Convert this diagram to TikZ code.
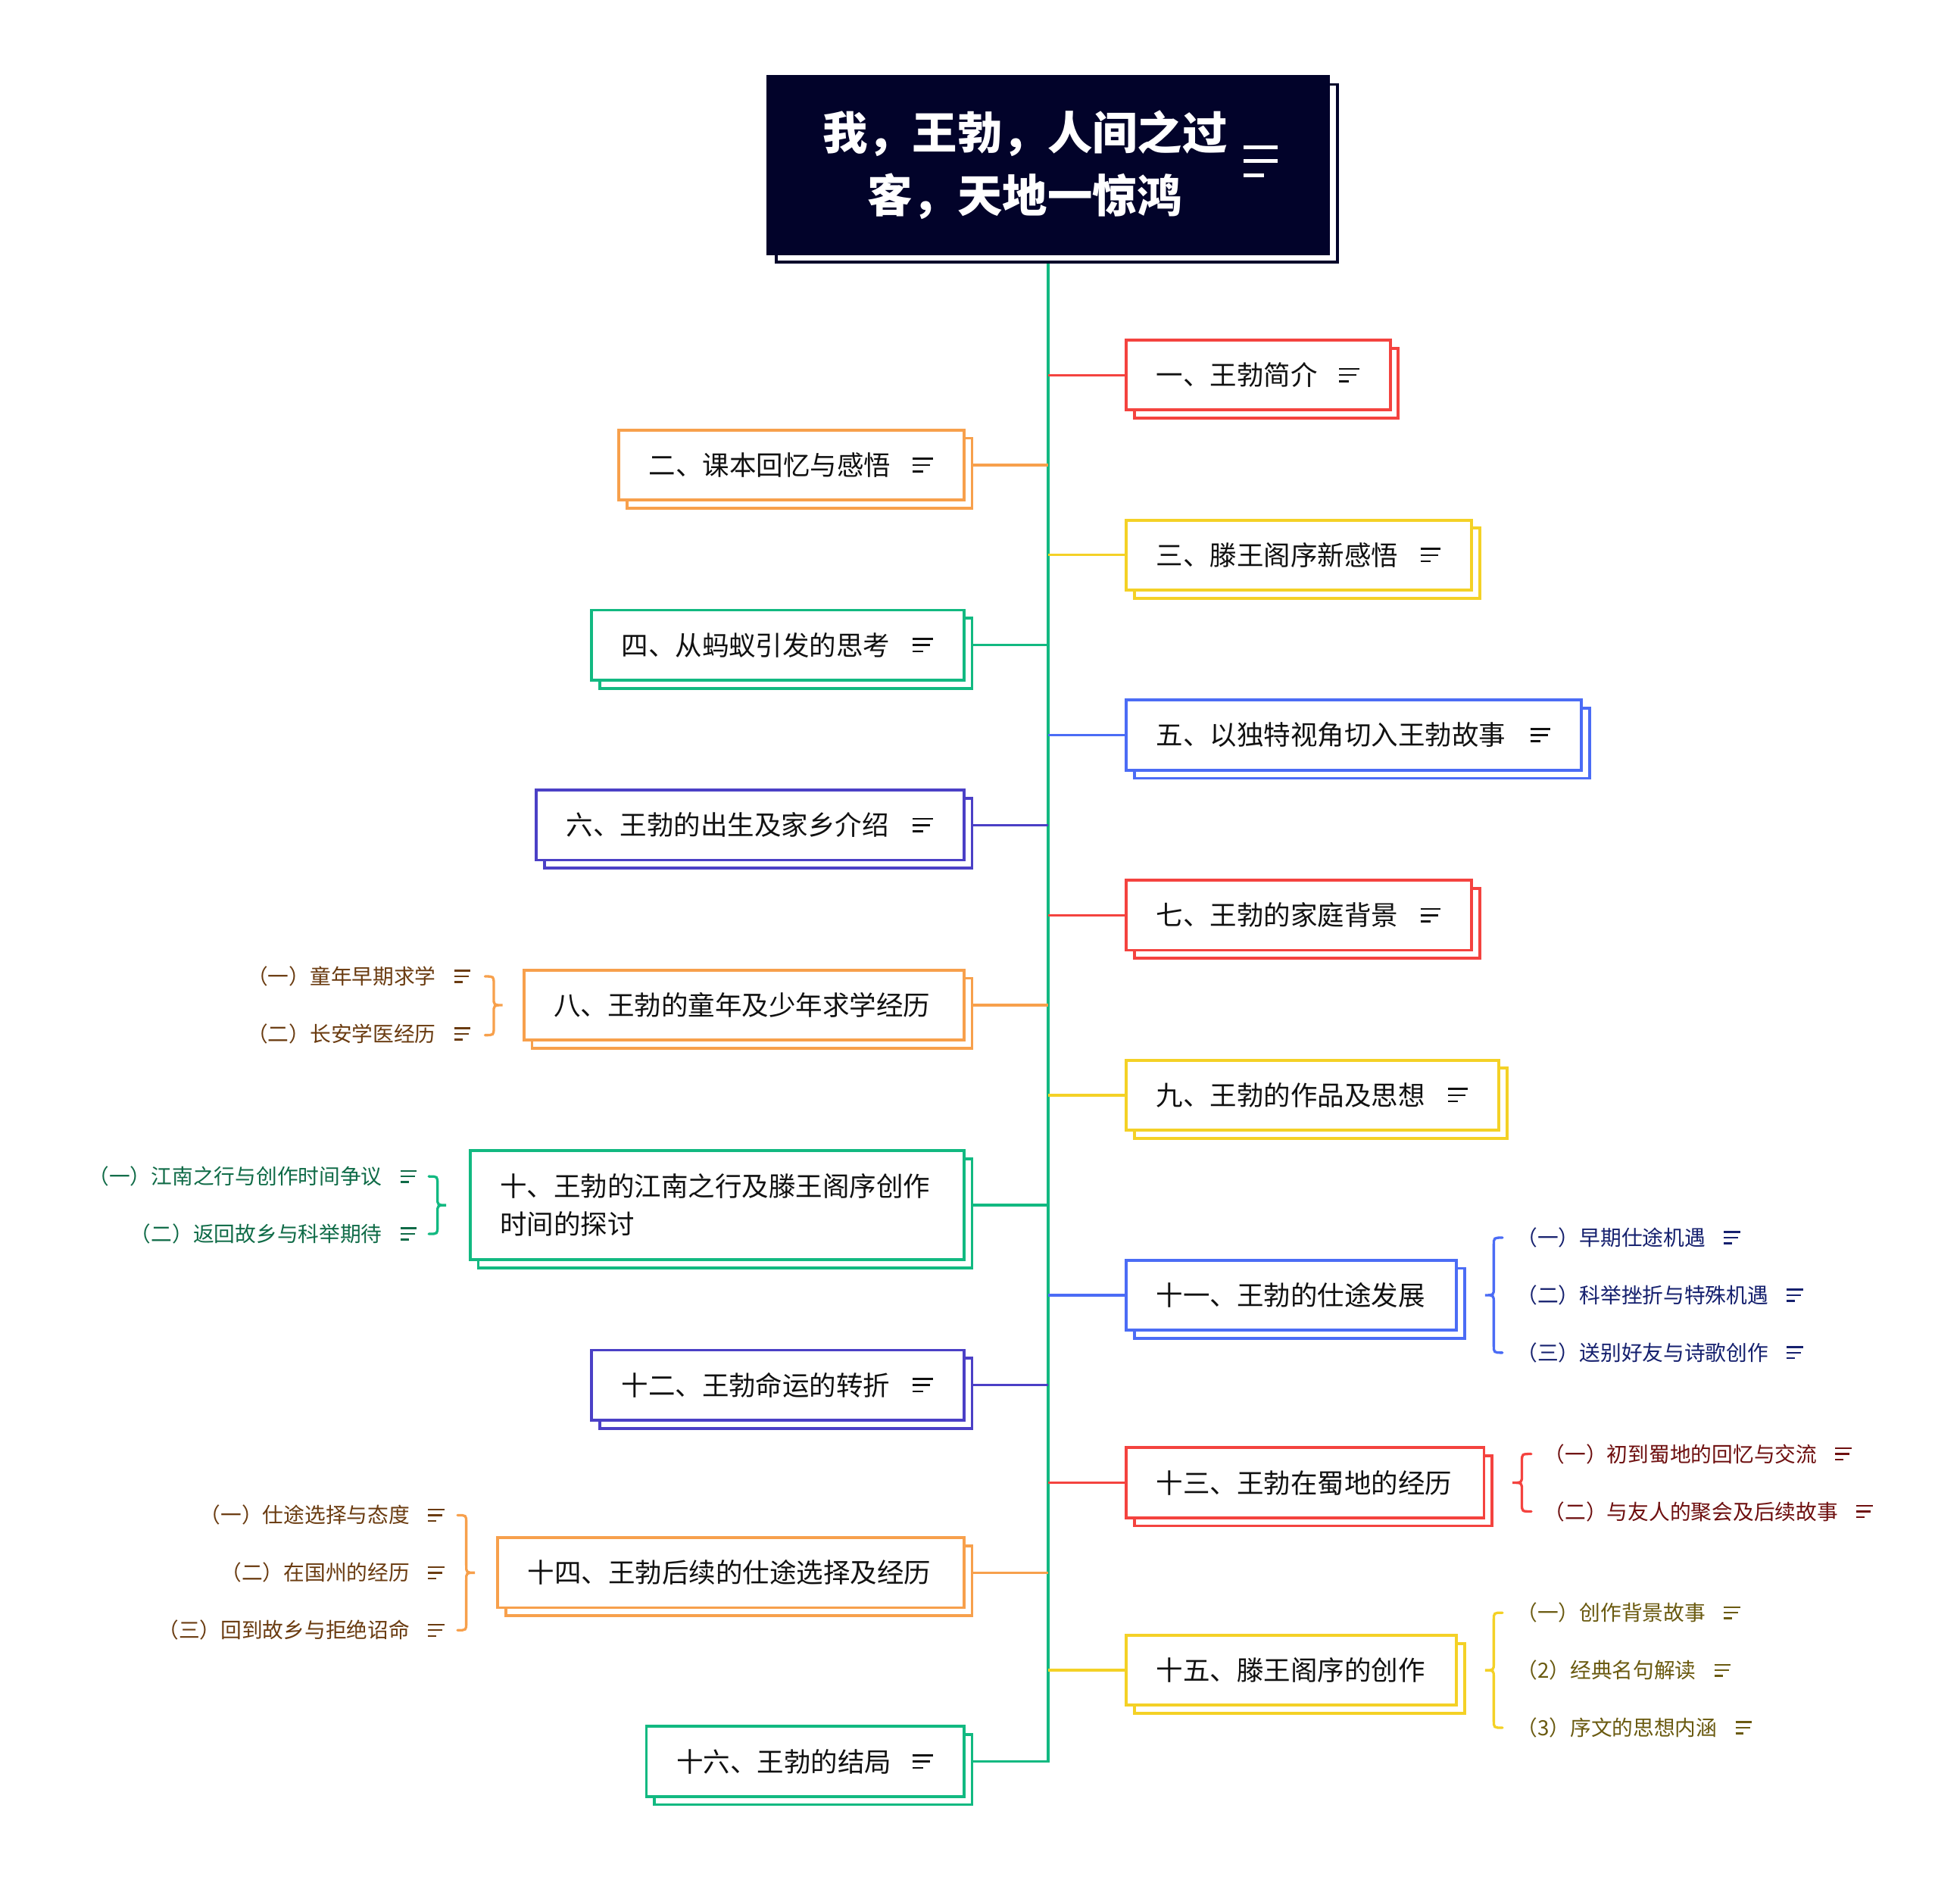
\documentclass[tikz,border=0pt]{standalone}
\usepackage{fontspec}
\setmainfont{Noto Sans CJK SC}
\usetikzlibrary{backgrounds}
\definecolor{cnavy}{HTML}{02032A}
\definecolor{cred}{HTML}{F4433F}
\definecolor{corange}{HTML}{F7A04C}
\definecolor{cyellow}{HTML}{F4D126}
\definecolor{cgreen}{HTML}{12B981}
\definecolor{cblue}{HTML}{4B6CF5}
\definecolor{cindigo}{HTML}{4B40C6}
\definecolor{cblack}{HTML}{111111}
\definecolor{tbrown}{HTML}{6A3B10}
\definecolor{tgreen}{HTML}{0F6B47}
\definecolor{tnavy}{HTML}{15206E}
\definecolor{tred}{HTML}{6E0F0F}
\definecolor{tolive}{HTML}{6A5A10}
\tikzset{
  mbox/.style={draw=#1, fill=white, line width=2.3pt, anchor=west,
    minimum height=56pt, inner xsep=24pt, inner ysep=0pt, align=left,
    font=\fontsize{21.5}{30}\selectfont, text=cblack,
    preaction={draw=#1, fill=white, line width=2.3pt,
      transform canvas={shift={(6.5pt,-6.5pt)}}}},
  conn/.style={draw=#1, line width=2pt},
  subitem/.style={inner sep=0pt, font=\fontsize{16.8}{20}\selectfont, text=#1},
  bracestyle/.style={draw=#1, line width=2pt, line cap=round},
  pics/noteicon/.style={code={
    \draw[line width=1.6pt] (-8,-5) -- (8,-5);
    \draw[line width=1.6pt] (-8,0) -- (6,0);
    \draw[line width=1.6pt] (-8,5) -- (0,5);
  }},
  pics/subicon/.style={code={
    \draw[line width=1.4pt] (-6.5,-4.5) -- (6.5,-4.5);
    \draw[line width=1.4pt] (-6.5,0) -- (5,0);
    \draw[line width=1.4pt] (-6.5,4.5) -- (0,4.5);
  }},
}
% brace: xe (ends), xt (tip), yt, ym, yb, colour
\newcommand\mybrace[6]{%
  \draw[bracestyle=#6] (#1,#3) .. controls ({(#1+#2)/2},#3) .. ({(#1+#2)/2},{#3+6})
    -- ({(#1+#2)/2},{#4-6}) .. controls ({(#1+#2)/2},#4) .. (#2,#4)
    .. controls ({(#1+#2)/2},#4) .. ({(#1+#2)/2},{#4+6})
    -- ({(#1+#2)/2},{#5-6}) .. controls ({(#1+#2)/2},#5) .. (#1,#5);}
\begin{document}
\begin{tikzpicture}[x=1pt,y=-1pt]
\useasboundingbox (0,0) rectangle (1568,1506);

% title
\node[draw=cnavy, fill=cnavy, line width=2.3pt, minimum width=449pt, minimum height=142pt,
  preaction={draw=cnavy, fill=white, line width=2.3pt, transform canvas={shift={(7pt,-6.5pt)}}}]
  (title) at (838.5,132) {};
\node[text=white, font=\fontsize{36}{50}\selectfont\bfseries, align=center, inner sep=0pt]
  (ttext) at (820,132) {我，王勃，人间之过\\客，天地一惊鸿};
\draw[white, line width=3pt] (995,118) -- (1022,118) (995,129) -- (1022,129) (995,140) -- (1011,140);

% boxes
\node[mbox=cred, text width=163pt] (b1) at (900,300) {一、王勃简介};
\node[mbox=corange, text width=228pt] (b2) at (494,372) {二、课本回忆与感悟};
\node[mbox=cyellow, text width=228pt] (b3) at (900,444) {三、滕王阁序新感悟};
\node[mbox=cgreen, text width=250pt] (b4) at (472,516) {四、从蚂蚁引发的思考};
\node[mbox=cblue, text width=316pt] (b5) at (900,588) {五、以独特视角切入王勃故事};
\node[mbox=cindigo, text width=294pt] (b6) at (428,660) {六、王勃的出生及家乡介绍};
\node[mbox=cred, text width=228pt] (b7) at (900,732) {七、王勃的家庭背景};
\node[mbox=corange, text width=304pt] (b8) at (418,804) {八、王勃的童年及少年求学经历};
\node[mbox=cyellow, text width=250pt] (b9) at (900,876) {九、王勃的作品及思想};
\node[mbox=cgreen, text width=347pt, minimum height=87pt] (b10) at (375,964) {十、王勃的江南之行及滕王阁序创作\\时间的探讨};
\node[mbox=cblue, text width=216pt] (b11) at (900,1036) {十一、王勃的仕途发展};
\node[mbox=cindigo, text width=250pt] (b12) at (472,1108) {十二、王勃命运的转折};
\node[mbox=cred, text width=238pt] (b13) at (900,1186) {十三、王勃在蜀地的经历};
\node[mbox=corange, text width=325pt] (b14) at (397,1258) {十四、王勃后续的仕途选择及经历};
\node[mbox=cyellow, text width=216pt] (b15) at (900,1336) {十五、滕王阁序的创作};
\node[mbox=cgreen, text width=206pt] (b16) at (516,1409) {十六、王勃的结局};

% note icons in boxes
\foreach \b in {b1,b2,b3,b4,b5,b6,b7,b9,b12,b16}
  \pic[cblack] at ([xshift=-34pt]\b.east) {noteicon};

% connectors (behind the boxes)
\begin{scope}[on background layer]
\fill[white] (0,0) rectangle (1568,1506);
\draw[conn=cgreen] (title.south) -- (title.south |- b16.east) -- (b16.east);
\draw[conn=cred] (b1.west) -- (b1.west -| title.south);
\draw[conn=corange] (b2.east) -- (b2.east -| title.south);
\draw[conn=cyellow] (b3.west) -- (b3.west -| title.south);
\draw[conn=cgreen] (b4.east) -- (b4.east -| title.south);
\draw[conn=cblue] (b5.west) -- (b5.west -| title.south);
\draw[conn=cindigo] (b6.east) -- (b6.east -| title.south);
\draw[conn=cred] (b7.west) -- (b7.west -| title.south);
\draw[conn=corange] (b8.east) -- (b8.east -| title.south);
\draw[conn=cyellow] (b9.west) -- (b9.west -| title.south);
\draw[conn=cgreen] (b10.east) -- (b10.east -| title.south);
\draw[conn=cblue] (b11.west) -- (b11.west -| title.south);
\draw[conn=cindigo] (b12.east) -- (b12.east -| title.south);
\draw[conn=cred] (b13.west) -- (b13.west -| title.south);
\draw[conn=corange] (b14.east) -- (b14.east -| title.south);
\draw[conn=cyellow] (b15.west) -- (b15.west -| title.south);
\end{scope}

% sub-items of 八
\node[subitem=tbrown, anchor=east] (s8a) at (349,781) {（一）童年早期求学};
\node[subitem=tbrown, anchor=east] (s8b) at (349,827) {（二）长安学医经历};
\pic[tbrown] at ([xshift=21pt]s8a.east) {subicon};
\pic[tbrown] at ([xshift=21pt]s8b.east) {subicon};
\mybrace{388}{402}{781}{804}{828}{corange}

% sub-items of 十
\node[subitem=tgreen, anchor=east] (s10a) at (306,941) {（一）江南之行与创作时间争议};
\node[subitem=tgreen, anchor=east] (s10b) at (306,987) {（二）返回故乡与科举期待};
\pic[tgreen] at ([xshift=21pt]s10a.east) {subicon};
\pic[tgreen] at ([xshift=21pt]s10b.east) {subicon};
\mybrace{343}{357}{941}{964}{987}{cgreen}

% sub-items of 十一
\node[subitem=tnavy, anchor=west] (s11a) at (1213,990) {（一）早期仕途机遇};
\node[subitem=tnavy, anchor=west] (s11b) at (1213,1036) {（二）科举挫折与特殊机遇};
\node[subitem=tnavy, anchor=west] (s11c) at (1213,1082) {（三）送别好友与诗歌创作};
\pic[tnavy] at ([xshift=21pt]s11a.east) {subicon};
\pic[tnavy] at ([xshift=21pt]s11b.east) {subicon};
\pic[tnavy] at ([xshift=21pt]s11c.east) {subicon};
\mybrace{1202}{1188}{990}{1036}{1082}{cblue}

% sub-items of 十三
\node[subitem=tred, anchor=west] (s13a) at (1235,1163) {（一）初到蜀地的回忆与交流};
\node[subitem=tred, anchor=west] (s13b) at (1235,1209) {（二）与友人的聚会及后续故事};
\pic[tred] at ([xshift=21pt]s13a.east) {subicon};
\pic[tred] at ([xshift=21pt]s13b.east) {subicon};
\mybrace{1225}{1210}{1163}{1186}{1209}{cred}

% sub-items of 十四
\node[subitem=tbrown, anchor=east] (s14a) at (328,1212) {（一）仕途选择与态度};
\node[subitem=tbrown, anchor=east] (s14b) at (328,1258) {（二）在国州的经历};
\node[subitem=tbrown, anchor=east] (s14c) at (328,1304) {（三）回到故乡与拒绝诏命};
\pic[tbrown] at ([xshift=21pt]s14a.east) {subicon};
\pic[tbrown] at ([xshift=21pt]s14b.east) {subicon};
\pic[tbrown] at ([xshift=21pt]s14c.east) {subicon};
\mybrace{366}{380}{1212}{1258}{1304}{corange}

% sub-items of 十五
\node[subitem=tolive, anchor=west] (s15a) at (1213,1290) {（一）创作背景故事};
\node[subitem=tolive, anchor=west] (s15b) at (1213,1336) {（2）经典名句解读};
\node[subitem=tolive, anchor=west] (s15c) at (1213,1382) {（3）序文的思想内涵};
\pic[tolive] at ([xshift=21pt]s15a.east) {subicon};
\pic[tolive] at ([xshift=21pt]s15b.east) {subicon};
\pic[tolive] at ([xshift=21pt]s15c.east) {subicon};
\mybrace{1202}{1188}{1290}{1336}{1382}{cyellow}
\end{tikzpicture}
\end{document}
